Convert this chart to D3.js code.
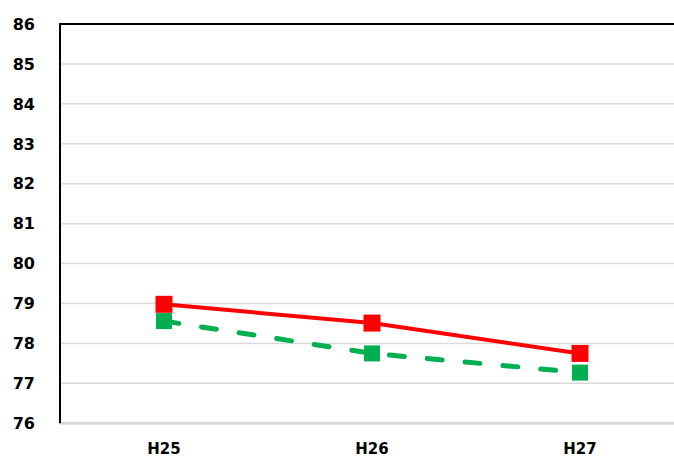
<!DOCTYPE html>
<html><head><meta charset="utf-8">
<script src="https://cdn.jsdelivr.net/npm/d3@7"></script>
<style>body{margin:0;background:#fff}svg{display:block}</style>
</head><body>
<svg id="c" width="674" height="459"></svg>
<script>
const categories = ["H25", "H26", "H27"];
const seriesRed = [78.98, 78.51, 77.75];
const seriesGreen = [78.56, 77.75, 77.27];
const yTicks = [76, 77, 78, 79, 80, 81, 82, 83, 84, 85, 86];

const svg = d3.select("#c");
const L = 60, R = 684, T = 24, B = 423.3;
const x = d3.scaleBand().domain(categories).range([L, R]);
const y = d3.scaleLinear().domain([76, 86]).range([B, T]);
const cx = d => x(d) + x.bandwidth() / 2;

// gridlines
svg.append("g").selectAll("line").data(yTicks.filter(t => t > 76 && t < 86)).join("line")
  .attr("x1", L).attr("x2", 674).attr("y1", d => y(d)).attr("y2", d => y(d))
  .attr("stroke", "#d9d9d9").attr("stroke-width", 1.5);

// bottom axis line (gray)
svg.append("line").attr("x1", L).attr("x2", 674).attr("y1", B).attr("y2", B)
  .attr("stroke", "#d9d9d9").attr("stroke-width", 3);
// top border
svg.append("line").attr("x1", L).attr("x2", 674).attr("y1", T).attr("y2", T)
  .attr("stroke", "#000").attr("stroke-width", 2);
// left axis
svg.append("line").attr("x1", L).attr("x2", L).attr("y1", T - 1).attr("y2", B)
  .attr("stroke", "#000").attr("stroke-width", 2);

// y tick labels
svg.append("g").selectAll("text").data(yTicks).join("text")
  .attr("x", 35).attr("y", d => y(d)).attr("dy", "0.36em")
  .attr("text-anchor", "end")
  .attr("font-family", "'DejaVu Sans', Verdana, sans-serif")
  .attr("font-weight", "bold").attr("font-size", 16).attr("fill", "#000")
  .text(d => d);

// x labels
svg.append("g").selectAll("text").data(categories).join("text")
  .attr("x", d => cx(d)).attr("y", 454)
  .attr("text-anchor", "middle")
  .attr("font-family", "'DejaVu Sans', Verdana, sans-serif")
  .attr("font-weight", "bold").attr("font-size", 15).attr("fill", "#000")
  .text(d => d);

const line = d3.line().x((d, i) => cx(categories[i])).y(d => y(d));

// green dashed
svg.append("path").datum(seriesGreen).attr("d", line)
  .attr("fill", "none").attr("stroke", "#00B050").attr("stroke-width", 5)
  .attr("stroke-dasharray", "15,23").attr("stroke-linecap", "round");
svg.append("g").selectAll("rect").data(seriesGreen).join("rect")
  .attr("x", (d, i) => cx(categories[i]) - 8).attr("y", d => y(d) - 8)
  .attr("width", 16).attr("height", 16).attr("fill", "#00B050");

// red solid
svg.append("path").datum(seriesRed).attr("d", line)
  .attr("fill", "none").attr("stroke", "#FF0000").attr("stroke-width", 4);
svg.append("g").selectAll("rect").data(seriesRed).join("rect")
  .attr("x", (d, i) => cx(categories[i]) - 8.5).attr("y", d => y(d) - 8.5)
  .attr("width", 17).attr("height", 17).attr("fill", "#FF0000");
</script>
</body></html>
